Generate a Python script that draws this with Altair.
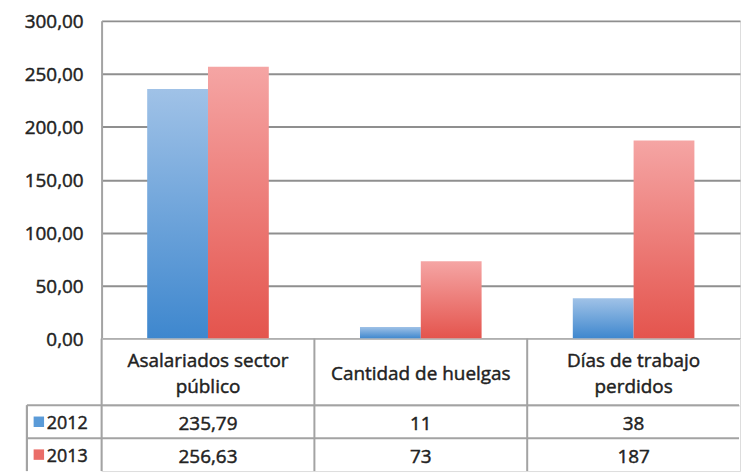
import altair as alt
import pandas as pd

categories = ["Asalariados sector público", "Cantidad de huelgas", "Días de trabajo perdidos"]
category_line1 = ["Asalariados sector", "Cantidad de huelgas", "Días de trabajo"]
category_line2 = ["público", "", "perdidos"]
series = ["2012", "2013"]
values_2012 = [235.79, 11, 38]
values_2013 = [256.63, 73, 187]
labels_2012 = ["235,79", "11", "38"]
labels_2013 = ["256,63", "73", "187"]
y_ticks = [0, 50, 100, 150, 200, 250, 300]

FONT = "Open Sans"
GRID = "#8f8f8f"
LINE = "#a3a3a3"
TEXT = "#222222"
W = 641

bars = pd.DataFrame(
    [{"category": c, "series": "2012", "value": v} for c, v in zip(categories, values_2012)]
    + [{"category": c, "series": "2013", "value": v} for c, v in zip(categories, values_2013)]
)
ticks = pd.DataFrame({"value": y_ticks})
header = pd.DataFrame({"category": categories, "line1": category_line1, "line2": category_line2})
cells = pd.DataFrame(
    [{"category": c, "series": "2012", "label": t} for c, t in zip(categories, labels_2012)]
    + [{"category": c, "series": "2013", "label": t} for c, t in zip(categories, labels_2013)]
)
legend = pd.DataFrame({"series": series})


def xc(edge=False):
    kw = dict(sort=categories, scale=alt.Scale(domain=categories, paddingInner=0, paddingOuter=0), axis=None)
    if edge:
        kw["bandPosition"] = 0
    return alt.X("category:N", **kw)


xoff = alt.XOffset("series:N", scale=alt.Scale(domain=series, paddingInner=0, paddingOuter=0.75))
yscale = alt.Scale(domain=[0, 300], nice=False)
yval = alt.Y("value:Q", scale=yscale,
             axis=alt.Axis(values=y_ticks, title=None, grid=True, gridColor=GRID, gridWidth=2,
                           domain=True, domainColor=LINE, domainWidth=2, ticks=False, labels=False))

blue = alt.Gradient(gradient="linear",
                    stops=[alt.GradientStop(color="#a0c2e7", offset=0),
                           alt.GradientStop(color="#3e87ce", offset=1)],
                    x1=0, x2=0, y1=0, y2=1)
red = alt.Gradient(gradient="linear",
                   stops=[alt.GradientStop(color="#f5a5a4", offset=0),
                          alt.GradientStop(color="#e4544d", offset=1)],
                   x1=0, x2=0, y1=0, y2=1)

TXT = dict(font=FONT, fontSize=19, fontWeight="normal", color=TEXT, baseline="middle",
           stroke=TEXT, strokeWidth=0.45)

base = alt.Chart(bars).encode(x=xc(), xOffset=xoff, y=yval)
b12 = base.transform_filter(alt.datum.series == "2012").mark_bar(color=blue)
b13 = base.transform_filter(alt.datum.series == "2013").mark_bar(color=red)
ylabels = alt.Chart(ticks).mark_text(align="right", dy=1, **TXT).encode(
    x=alt.value(-18),
    y=alt.Y("value:Q", scale=yscale),
    text=alt.Text("label:N"),
).transform_calculate(label="replace(format(datum.value, '.2f'), '.', ',')")
top = alt.layer(b12, b13, ylabels).properties(width=W, height=319)

# Header row of the data table
hbase = alt.Chart(header)
two = hbase.transform_filter("datum.line2 != ''")
one = hbase.transform_filter("datum.line2 == ''")
t1 = two.mark_text(**TXT).encode(x=xc(), y=alt.value(23), text="line1:N")
t2 = two.mark_text(**TXT).encode(x=xc(), y=alt.value(49), text="line2:N")
t0 = one.mark_text(**TXT).encode(x=xc(), y=alt.value(36), text="line1:N")
hrule = hbase.mark_rule(color=LINE, strokeWidth=2).encode(
    x=xc(edge=True), y=alt.value(0), y2=alt.value(67),
)
head = alt.layer(hrule, t1, t2, t0).properties(width=W, height=67)

# Value rows of the data table
yser = alt.Y("series:N", scale=alt.Scale(domain=series, paddingInner=0, paddingOuter=0), axis=None)
yedge = alt.Y("series:N", scale=alt.Scale(domain=series, paddingInner=0, paddingOuter=0), axis=None,
              bandPosition=0)
cbase = alt.Chart(cells)
ctext = cbase.mark_text(dy=2, **TXT).encode(x=xc(), y=yser, text="label:N")
vrule = hbase.mark_rule(color=LINE, strokeWidth=2).encode(
    x=xc(edge=True), y=alt.value(0), y2=alt.value(66),
)
lbase = alt.Chart(legend)
hlines = lbase.mark_rule(color=LINE, strokeWidth=2).encode(
    y=yedge, x=alt.value(-75), x2=alt.value(W - 1),
)
leftline = lbase.mark_rule(color=LINE, strokeWidth=2).encode(
    x=alt.value(-75), y=alt.value(0), y2=alt.value(66),
)
squares = lbase.mark_square(size=110, opacity=1).encode(
    x=alt.value(-63), y=yser,
    color=alt.Color("series:N", scale=alt.Scale(domain=series, range=["#5b9bd8", "#ea6d68"]), legend=None),
)
YTXT = dict(TXT, fontSize=18)
years = lbase.mark_text(align="left", dy=2, **YTXT).encode(
    x=alt.value(-55), y=yser, text="series:N",
)
rows = alt.layer(hlines, leftline, vrule, ctext, squares, years).properties(width=W, height=66)

chart = alt.vconcat(top, head, rows, spacing=0, bounds="flush").properties(
    padding={"left": 24, "top": 11, "right": 0, "bottom": 0}
).configure_view(strokeWidth=0).configure(font=FONT, background="white")

chart.save("out.html", embed_options={"renderer": "svg", "actions": False})
